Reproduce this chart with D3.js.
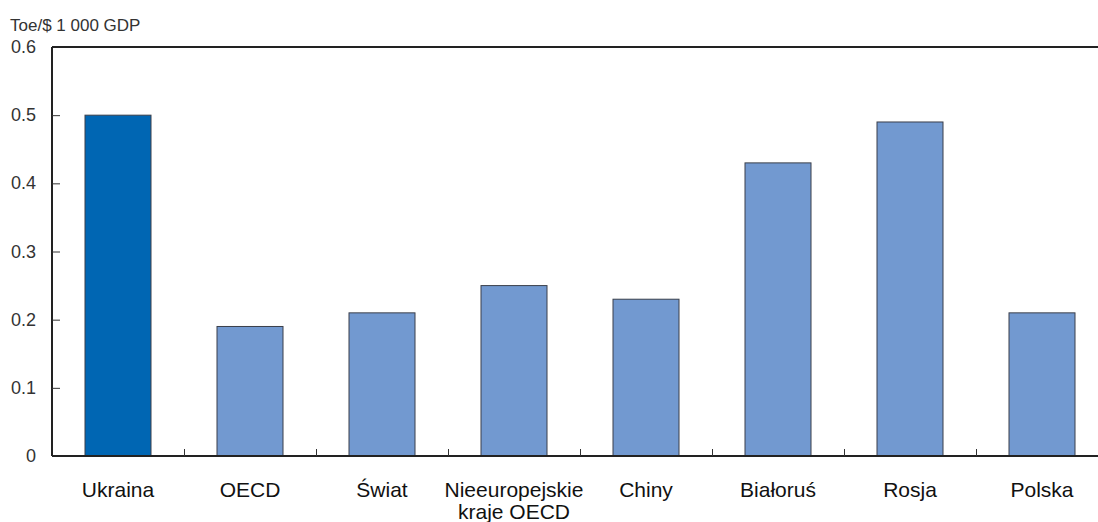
<!DOCTYPE html>
<html><head><meta charset="utf-8">
<script src="https://cdn.jsdelivr.net/npm/d3@7"></script>
<style>body{margin:0;background:#fff}svg{display:block}</style>
</head><body>
<svg id="c" width="1098" height="522"></svg>
<script>
const categories = ["Ukraina","OECD","Świat","Nieeuropejskie kraje OECD","Chiny","Białoruś","Rosja","Polska"];
const values = [0.50,0.19,0.21,0.25,0.23,0.43,0.49,0.21];
const yTicks = [0,0.1,0.2,0.3,0.4,0.5,0.6];
const yTickLabels = ["0","0.1","0.2","0.3","0.4","0.5","0.6"];
const unitLabel = "Toe/$ 1 000 GDP";
const highlight = "Ukraina";

const svg = d3.select("#c");
const L = 52, R = 1108, T = 47, B = 456;
const x = d3.scaleBand().domain(categories).range([L, R]).paddingInner(0.5).paddingOuter(0.25);
const y = d3.scaleLinear().domain([0, 0.6]).range([B, T]);
const font = "'Liberation Sans',Arial,sans-serif";

// bars
svg.append("g").selectAll("rect").data(categories).join("rect")
  .attr("x", d => x(d)).attr("width", x.bandwidth())
  .attr("y", (d,i) => y(values[i])).attr("height", (d,i) => B - y(values[i]))
  .attr("fill", d => d === highlight ? "#0066b3" : "#7299d0")
  .attr("stroke", "#3a3f4a").attr("stroke-width", 1);

// top border
svg.append("line").attr("x1", L).attr("x2", R).attr("y1", T).attr("y2", T)
  .attr("stroke", "#222").attr("stroke-width", 2);

// y axis
const yAxis = d3.axisRight(y).tickValues(yTicks).tickSize(8).tickFormat("");
const gy = svg.append("g").attr("transform", `translate(${L},0)`).call(yAxis);
gy.select(".domain").attr("stroke", "#222").attr("stroke-width", 2).attr("d", `M0,${T}V${B}`);
gy.selectAll(".tick line").attr("stroke", "#333").attr("stroke-width", 1);
gy.selectAll(".tick").filter(d => d === 0 || d === 0.6).select("line").remove();
svg.append("g").selectAll("text").data(yTicks).join("text")
  .attr("x", 36).attr("y", d => y(d) + 6).attr("text-anchor", "end")
  .attr("font-family", font).attr("font-size", 18).attr("fill", "#333")
  .text((d,i) => yTickLabels[i]);

// x axis with boundary ticks
const bounds = categories.map((c,i) => x(c) + x.bandwidth() + x.step()*0.25);
const xb = d3.scaleLinear().domain([L, R]).range([L, R]);
const gx = svg.append("g").attr("transform", `translate(0,${B})`)
  .call(d3.axisTop(xb).tickValues(bounds.slice(0, -1)).tickSize(7).tickFormat(""));
gx.select(".domain").attr("stroke", "#222").attr("stroke-width", 2).attr("d", `M${L},0H${R}`);
gx.selectAll(".tick line").attr("stroke", "#333").attr("stroke-width", 1);

// x labels
const lbl = svg.append("g").selectAll("text").data(categories).join("text")
  .attr("x", d => x(d) + x.bandwidth()/2).attr("y", 497)
  .attr("text-anchor", "middle").attr("font-family", font)
  .attr("font-size", 21).attr("fill", "#111");
lbl.each(function(d){
  const words = d === "Nieeuropejskie kraje OECD" ? ["Nieeuropejskie","kraje OECD"] : [d];
  const t = d3.select(this);
  words.forEach((w,i) => t.append("tspan").attr("x", t.attr("x")).attr("dy", i ? 22 : 0).text(w));
});

// unit label
svg.append("text").attr("x", 10).attr("y", 31).attr("font-family", font)
  .attr("font-size", 17).attr("fill", "#333").text(unitLabel);
</script>
</body></html>
